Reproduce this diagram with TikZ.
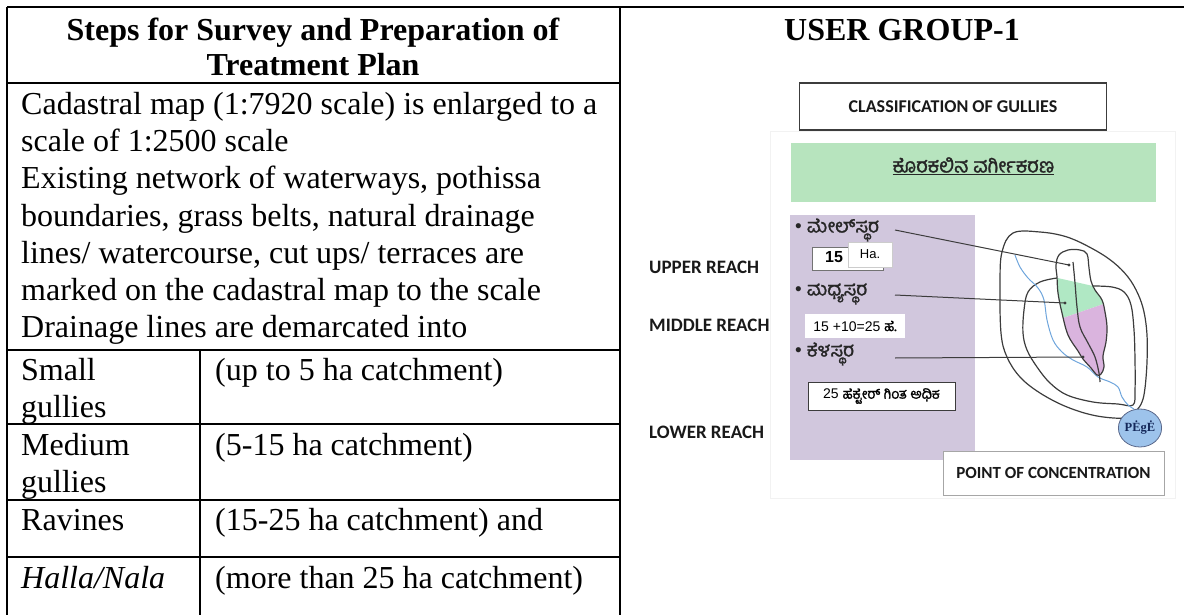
\documentclass[tikz,border=0pt]{standalone}
\usepackage{fontspec}
\usetikzlibrary{shapes.geometric}
\setmainfont{Liberation Serif}
\newfontfamily\calibri{Carlito}
\newfontfamily\arial{Liberation Sans}
\newfontfamily\kn[Script=Kannada]{Hind Mysuru}
\newfontfamily\knb[Script=Kannada,FakeBold=1.4]{Hind Mysuru}
\definecolor{lav}{RGB}{209,199,221}
\definecolor{mint}{RGB}{183,228,190}
\definecolor{gullypink}{RGB}{218,180,222}
\definecolor{gullygreen}{RGB}{176,232,196}
\definecolor{stream}{RGB}{110,165,220}
\definecolor{pocblue}{RGB}{157,195,235}
\definecolor{ink}{RGB}{60,60,60}
\definecolor{navy}{RGB}{20,40,90}
\begin{document}
\begin{tikzpicture}[x=1pt,y=-1pt,
  rule/.style={line width=2.2pt},
  body/.style={anchor=base west,inner sep=0pt,font=\fontsize{32}{37}\selectfont},
  head/.style={anchor=base,inner sep=0pt,font=\fontsize{32}{37}\selectfont\bfseries},
  reach/.style={anchor=west,inner sep=0pt,text=black!90,font=\calibri\fontsize{19}{22}\selectfont\bfseries},
  kbullet/.style={anchor=west,inner sep=0pt,text=black!85,font=\knb\fontsize{19}{22}\selectfont},
  contour/.style={draw=ink,line width=1.2pt},
  pointer/.style={draw=ink,line width=1pt}
]
\useasboundingbox (0,0) rectangle (1184,615);

% ---- table frame ----
\draw[rule] (7,7) -- (1184,7);
\draw[rule] (7,7) -- (7,615);
\draw[rule] (620,7) -- (620,615);
\draw[rule] (7,83) -- (620,83);
\draw[rule] (7,350) -- (620,350);
\draw[rule] (7,424) -- (620,424);
\draw[rule] (7,500) -- (620,500);
\draw[rule] (7,557) -- (620,557);
\draw[rule] (200,350) -- (200,615);

% ---- left column text ----
\node[head] (h1) at (313,41) {Steps for Survey and Preparation of};
\node[head] (h2) at (313,76) {Treatment Plan};
\node[body] (b1) at (21,115) {Cadastral map (1:7920 scale) is enlarged to a};
\node[body] (b2) at (21,152) {scale of 1:2500 scale};
\node[body] (b3) at (21,189) {Existing network of waterways, pothissa};
\node[body] (b4) at (21,226) {boundaries, grass belts, natural drainage};
\node[body] (b5) at (21,263) {lines/ watercourse, cut ups/ terraces are};
\node[body] (b6) at (21,300) {marked on the cadastral map to the scale};
\node[body] (b7) at (21,337) {Drainage lines are demarcated into};
\node[body] (s1) at (21,380) {Small};
\node[body] (s2) at (21,417) {gullies};
\node[body] (s3) at (215,380) {(up to 5 ha catchment)};
\node[body] (m1) at (21,455) {Medium};
\node[body] (m2) at (21,492) {gullies};
\node[body] (m3) at (215,455) {(5-15 ha catchment)};
\node[body] (r1) at (21,530) {Ravines};
\node[body] (r2) at (215,530) {(15-25 ha catchment) and};
\node[body] (n1) at (21,588) {\itshape Halla/Nala};
\node[body] (n2) at (215,588) {(more than 25 ha catchment)};

% ---- right column ----
\node[head] (ug) at (902,41) {USER GROUP-1};
\draw[black!5] (770,131) rectangle (1175,498);

\node[draw=ink,line width=1.2pt,fill=white,minimum width=307pt,minimum height=47pt,
      font=\calibri\fontsize{18}{21}\selectfont\bfseries,text=black!90] (cls) at (953,106.5) {CLASSIFICATION OF GULLIES};

\node[fill=mint,minimum width=365pt,minimum height=59pt] (green) at (973.5,172.5) {};
\node[inner sep=0pt,font=\knb\fontsize{20}{24}\selectfont,text=black!85] (ktitle) at (973.5,166) {\underline{ಕೊರಕಲಿನ ವರ್ಗೀಕರಣ}};

\node[fill=lav,minimum width=185pt,minimum height=245pt,inner sep=0pt] (panel) at (882.5,337.5) {};

\node[reach] (up) at (649,267) {UPPER REACH};
\node[reach] (mid) at (649,325) {MIDDLE REACH};
\node[reach] (low) at (649,432) {LOWER REACH};

\node[kbullet] (k1) at (795,230) {{\arial •}\hspace{5pt}ಮೇಲ್^^^^200cಸ್ಥರ};
\node[kbullet] (k2) at (795,294) {{\arial •}\hspace{5pt}ಮಧ್ಯಸ್ಥರ};
\node[kbullet] (k3) at (795,354) {{\arial •}\hspace{5pt}ಕೆಳಸ್ಥರ};

\node[draw=black!55,line width=0.8pt,fill=white,minimum width=71pt,minimum height=23pt,inner sep=0pt] (box15) at (847.5,258.5) {};
\node[inner sep=0pt,font=\arial\fontsize{16}{18}\selectfont\bfseries] (t15) at (834,257) {15};
\node[draw=black!20,line width=0.6pt,fill=white,minimum width=44pt,minimum height=25pt,inner sep=0pt,
      font=\arial\fontsize{13}{15}\selectfont] (ha) at (870,254.5) {Ha.};
\node[fill=white,minimum width=100pt,minimum height=24pt,inner sep=0pt,
      font=\fontsize{14}{16}\selectfont] (box25) at (855,326) {{\arial 15 +10=25 }{\knb ಹೆ.}};
\node[draw=ink,line width=1pt,fill=white,minimum width=147pt,minimum height=28pt,inner sep=0pt,
      font=\fontsize{14}{16}\selectfont] (boxmore) at (881.5,396) {{\arial 25 }{\knb ಹೆಕ್ಟೇರ್ ಗಿಂತ ಅಧಿಕ}};

% ---- gully sketch ----
\draw[contour] plot[smooth cycle,tension=0.6] coordinates {
  (1013,233) (1040,232) (1067,237) (1093,249) (1113,262) (1128,277) (1138,294) (1144,312)
  (1147,335) (1147,362) (1145,388) (1142,402) (1136,411) (1127,418) (1097,416) (1067,407)
  (1040,393) (1020,377) (1007,357) (1001,333) (1000,283) (1002,252)};
\draw[contour] plot[smooth,tension=0.6] coordinates {
  (1057,278) (1040,282) (1028,292) (1024,310) (1023,333) (1027,350) (1037,367) (1050,383)
  (1067,395) (1093,402) (1118,404) (1133,405) (1135,390) (1135,360) (1134,330) (1131,305)
  (1124,292) (1112,287) (1093,286)};
\draw[stream,line width=1pt] plot[smooth,tension=0.6] coordinates {
  (1015,255) (1020,267) (1028,278) (1038,288) (1044,300) (1047,320) (1053,340) (1062,352)
  (1073,360) (1087,367) (1098,377) (1110,382) (1118,387) (1122,397) (1128,405) (1134,409)};

\begin{scope}
  \clip plot[smooth cycle,tension=0.6] coordinates {
    (1057,277) (1056,265) (1059,255) (1068,250) (1080,250) (1087,254) (1089,268) (1091,281)
    (1095,290) (1102,300) (1105,312) (1107,327) (1106,342) (1103,356) (1104,367) (1101,374)
    (1097,375) (1091,368) (1083,359) (1078,351) (1068,335) (1062,313) (1058,293)};
  \fill[white] (1040,240) rectangle (1120,390);
  \fill[gullygreen] (1040,274) -- (1115,291) -- (1115,300) -- (1040,326) -- cycle;
  \fill[gullypink] (1040,326) -- (1115,300) -- (1115,390) -- (1040,390) -- cycle;
\end{scope}
\draw[contour] plot[smooth cycle,tension=0.6] coordinates {
  (1057,277) (1056,265) (1059,255) (1068,250) (1080,250) (1087,254) (1089,268) (1091,281)
  (1095,290) (1102,300) (1105,312) (1107,327) (1106,342) (1103,356) (1104,367) (1101,374)
  (1097,375) (1091,368) (1083,359) (1078,351) (1068,335) (1062,313) (1058,293)};
\draw[contour] plot[smooth,tension=0.6] coordinates {
  (1073,262) (1075,283) (1077,307) (1080,327) (1088,343) (1095,357) (1099,373) (1100,382)};

% ---- pointers from the reach bullets ----
\coordinate (p1) at (895,230);
\coordinate (q1) at (1069,265);
\coordinate (p2) at (895,295);
\coordinate (q2) at (1065,303);
\coordinate (p3) at (895,358);
\coordinate (q3) at (1083,357);
\draw[pointer] (p1) -- (q1);
\draw[pointer] (p2) -- (q2);
\draw[pointer] (p3) -- (q3);
\fill[ink] (q1) circle (1.6pt);
\fill[ink] (q2) circle (1.6pt);
\fill[ink] (q3) circle (1.6pt);

% ---- point of concentration ----
\node[ellipse,draw=navy!70,line width=0.8pt,fill=pocblue,minimum width=31pt,minimum height=38pt,inner sep=0pt,
      font=\fontsize{12.5}{13}\selectfont\bfseries,text=navy] (pc) at (1140,428) {\raisebox{3pt}{PĖgĖ}};
\node[draw=black!35,line width=1pt,fill=white,minimum width=221pt,minimum height=44pt,
      font=\calibri\fontsize{17}{20}\selectfont\bfseries,text=black!90] (poc) at (1053.5,473) {POINT OF CONCENTRATION};
\end{tikzpicture}
\end{document}
